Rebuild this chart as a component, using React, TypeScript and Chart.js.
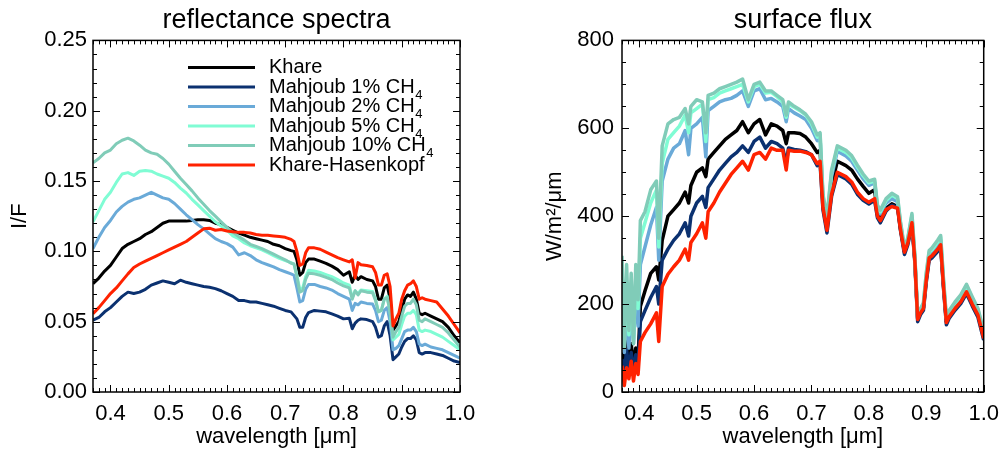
import React, { useEffect, useRef } from "react";
import { Chart, registerables } from "chart.js";

Chart.register(...registerables);

const FONT = "'Liberation Sans', Arial, Helvetica, sans-serif";

// ---------- reflectance spectra (left) ----------
const wavelengthRefl = [
  0.37, 0.38, 0.39, 0.40, 0.41, 0.42, 0.43, 0.44, 0.45, 0.46,
  0.47, 0.48, 0.49, 0.50, 0.51, 0.52, 0.53, 0.54, 0.55, 0.56,
  0.57, 0.58, 0.59, 0.60, 0.61, 0.62, 0.63, 0.64, 0.65, 0.66,
  0.67, 0.68, 0.69, 0.70, 0.71, 0.715, 0.72, 0.725, 0.73, 0.735,
  0.74, 0.75, 0.76, 0.77, 0.78, 0.79, 0.80, 0.81, 0.815, 0.82,
  0.825, 0.83, 0.84, 0.85, 0.855, 0.86, 0.865, 0.87, 0.875, 0.88,
  0.885, 0.89, 0.895, 0.90, 0.905, 0.91, 0.915, 0.92, 0.925, 0.93,
  0.935, 0.94, 0.95, 0.96, 0.97, 0.98, 0.99, 1.0,
];

const reflKhare = [
  0.077, 0.081, 0.086, 0.090, 0.096, 0.102, 0.105, 0.107, 0.109, 0.112,
  0.114, 0.117, 0.120, 0.1215, 0.1215, 0.1215, 0.1215, 0.122, 0.1225, 0.1225,
  0.122, 0.120, 0.119, 0.117, 0.115, 0.113, 0.1115, 0.110, 0.109, 0.108,
  0.107, 0.105, 0.104, 0.102, 0.1005, 0.100, 0.094, 0.083, 0.085, 0.092,
  0.0945, 0.0945, 0.093, 0.0915, 0.0895, 0.087, 0.083, 0.0855, 0.078, 0.083,
  0.080, 0.082, 0.080, 0.079, 0.075, 0.066, 0.066, 0.074, 0.076, 0.066,
  0.044, 0.047, 0.050, 0.058, 0.066, 0.069, 0.068, 0.071, 0.066, 0.056,
  0.055, 0.056, 0.054, 0.052, 0.050, 0.046, 0.040, 0.035,
];

const reflMahjoub1 = [
  0.051, 0.053, 0.057, 0.060, 0.064, 0.068, 0.071, 0.070, 0.071, 0.073,
  0.076, 0.0775, 0.079, 0.078, 0.077, 0.0795, 0.078, 0.077, 0.076, 0.075,
  0.0745, 0.0735, 0.072, 0.070, 0.068, 0.065, 0.065, 0.064, 0.064, 0.063,
  0.062, 0.061, 0.0595, 0.058, 0.057, 0.0545, 0.052, 0.046, 0.046, 0.053,
  0.0565, 0.058, 0.0575, 0.057, 0.0555, 0.054, 0.052, 0.0525, 0.045, 0.049,
  0.051, 0.052, 0.0515, 0.050, 0.046, 0.039, 0.040, 0.047, 0.050, 0.040,
  0.023, 0.025, 0.027, 0.032, 0.036, 0.038, 0.038, 0.040, 0.037, 0.028,
  0.027, 0.028, 0.028, 0.027, 0.026, 0.024, 0.022, 0.021,
];

const reflMahjoub2 = [
  0.102, 0.110, 0.117, 0.122, 0.128, 0.132, 0.135, 0.137, 0.138, 0.140,
  0.142, 0.140, 0.138, 0.137, 0.134, 0.130, 0.126, 0.1225, 0.119, 0.116,
  0.1125, 0.109, 0.107, 0.1055, 0.103, 0.0975, 0.099, 0.097, 0.094, 0.092,
  0.0905, 0.089, 0.087, 0.0855, 0.084, 0.083, 0.074, 0.064, 0.065, 0.073,
  0.0765, 0.0765, 0.075, 0.074, 0.0725, 0.070, 0.068, 0.066, 0.058, 0.063,
  0.062, 0.064, 0.063, 0.0625, 0.058, 0.050, 0.051, 0.058, 0.060, 0.050,
  0.030, 0.031, 0.033, 0.038, 0.043, 0.044, 0.044, 0.046, 0.043, 0.034,
  0.033, 0.034, 0.032, 0.031, 0.030, 0.028, 0.026, 0.024,
];

const reflMahjoub5 = [
  0.121, 0.129, 0.137, 0.142, 0.149, 0.155, 0.156, 0.154, 0.157, 0.1575,
  0.157, 0.155, 0.1535, 0.152, 0.149, 0.145, 0.1415, 0.137, 0.133, 0.129,
  0.125, 0.121, 0.118, 0.115, 0.111, 0.109, 0.106, 0.104, 0.1025, 0.101,
  0.099, 0.097, 0.095, 0.0935, 0.092, 0.091, 0.083, 0.073, 0.074, 0.082,
  0.0865, 0.086, 0.085, 0.0835, 0.082, 0.080, 0.0775, 0.076, 0.067, 0.072,
  0.070, 0.0725, 0.072, 0.0715, 0.066, 0.057, 0.058, 0.066, 0.068, 0.057,
  0.037, 0.039, 0.041, 0.048, 0.054, 0.056, 0.056, 0.058, 0.055, 0.044,
  0.043, 0.044, 0.043, 0.041, 0.039, 0.036, 0.033, 0.030,
];

const reflMahjoub10 = [
  0.163, 0.166, 0.170, 0.172, 0.1765, 0.179, 0.1805, 0.1785, 0.1755, 0.172,
  0.170, 0.169, 0.166, 0.162, 0.157, 0.152, 0.1475, 0.143, 0.138, 0.1335,
  0.129, 0.125, 0.121, 0.117, 0.1135, 0.1105, 0.108, 0.105, 0.1035, 0.102,
  0.100, 0.098, 0.096, 0.094, 0.0915, 0.091, 0.082, 0.071, 0.072, 0.080,
  0.0845, 0.084, 0.083, 0.0815, 0.080, 0.0775, 0.0755, 0.074, 0.066, 0.072,
  0.069, 0.072, 0.071, 0.0705, 0.065, 0.057, 0.058, 0.066, 0.067, 0.057,
  0.039, 0.043, 0.046, 0.054, 0.061, 0.063, 0.063, 0.066, 0.062, 0.051,
  0.050, 0.052, 0.050, 0.048, 0.046, 0.042, 0.037, 0.032,
];

const reflKhareHasenkopf = [
  0.0557, 0.060, 0.065, 0.070, 0.074, 0.079, 0.084, 0.0885, 0.091, 0.093,
  0.095, 0.097, 0.099, 0.101, 0.103, 0.105, 0.107, 0.110, 0.113, 0.116,
  0.1165, 0.115, 0.1155, 0.1145, 0.114, 0.1135, 0.1135, 0.113, 0.112, 0.1115,
  0.1115, 0.111, 0.1105, 0.110, 0.1085, 0.107, 0.100, 0.090, 0.091, 0.099,
  0.1025, 0.1025, 0.1015, 0.0995, 0.0975, 0.0955, 0.094, 0.0925, 0.094, 0.081,
  0.092, 0.0905, 0.090, 0.089, 0.085, 0.076, 0.076, 0.083, 0.084, 0.075,
  0.047, 0.052, 0.056, 0.066, 0.072, 0.076, 0.077, 0.079, 0.075, 0.066,
  0.067, 0.066, 0.065, 0.064, 0.059, 0.054, 0.048, 0.042,
];

// ---------- surface flux (right) ----------
const wavelengthFlux = [
  0.370, 0.374, 0.378, 0.382, 0.386, 0.390, 0.394, 0.398, 0.402, 0.41,
  0.42, 0.43, 0.434, 0.44, 0.45, 0.46, 0.47, 0.48, 0.486, 0.49,
  0.50, 0.51, 0.516, 0.52, 0.53, 0.54, 0.55, 0.56, 0.57, 0.58,
  0.59, 0.60, 0.61, 0.62, 0.63, 0.64, 0.65, 0.656, 0.66, 0.67,
  0.68, 0.69, 0.70, 0.71, 0.715, 0.72, 0.727, 0.735, 0.745, 0.76,
  0.77, 0.78, 0.79, 0.80, 0.81, 0.815, 0.82, 0.83, 0.84, 0.85,
  0.855, 0.862, 0.868, 0.875, 0.88, 0.885, 0.89, 0.895, 0.90, 0.905,
  0.91, 0.92, 0.925, 0.93, 0.935, 0.94, 0.95, 0.96, 0.97, 0.98,
  0.99, 1.0,
];

const fluxKhare = [
  90, 60, 120, 70, 110, 60, 100, 75, 195, 230,
  270, 285, 255, 345, 400, 415, 430, 455, 430, 470,
  500, 510, 490, 530, 545, 560, 575, 585, 595, 615,
  590, 610, 620, 585, 610, 605, 595, 565, 590, 590,
  588, 580, 565, 545, 550, 430, 375, 470, 525, 515,
  505, 485, 468, 452, 460, 405, 395, 418, 428, 422,
  372, 320, 342, 388, 302, 167, 182, 192, 258, 308,
  313, 328, 338, 243, 160, 175, 193, 208, 231, 203,
  178, 125,
];

const fluxMahjoub1 = [
  75, 40, 95, 50, 90, 45, 85, 60, 160, 185,
  215, 240, 200, 300, 325, 345, 360, 385, 355, 400,
  430, 445, 420, 465, 485, 505, 520, 535, 545, 560,
  545, 570, 580, 555, 570, 565, 555, 520, 555, 552,
  550, 547, 540, 515, 520, 415, 362, 445, 495, 485,
  473, 450, 436, 428, 436, 396, 385, 412, 425, 420,
  368, 313, 336, 382, 296, 160, 176, 186, 250, 300,
  305, 320, 330, 236, 153, 168, 186, 201, 224, 196,
  170, 118,
];

const fluxMahjoub2 = [
  180, 90, 200, 100, 210, 110, 230, 150, 290, 330,
  380, 420, 300, 480, 530, 555, 565, 595, 540, 600,
  610, 625, 535, 640, 650, 660, 665, 668, 675, 685,
  650, 685, 690, 665, 668, 660, 650, 615, 645, 635,
  628, 620, 600, 572, 578, 440, 390, 490, 548, 537,
  525, 505, 485, 470, 476, 415, 405, 430, 440, 433,
  380, 322, 346, 395, 306, 168, 184, 195, 262, 312,
  318, 334, 345, 248, 163, 178, 197, 213, 236, 208,
  182, 130,
];

const fluxMahjoub5 = [
  260, 110, 250, 130, 240, 120, 260, 190, 350, 385,
  430, 460, 330, 520, 575, 590, 605, 630, 590, 635,
  645, 655, 570, 665, 670, 680, 685, 690, 695, 700,
  660, 695, 700, 680, 682, 672, 660, 625, 655, 648,
  640, 630, 610, 580, 585, 445, 395, 500, 555, 545,
  533, 512, 492, 476, 480, 420, 410, 436, 448, 440,
  385, 326, 350, 402, 310, 172, 188, 200, 268, 318,
  324, 342, 352, 254, 168, 183, 202, 218, 242, 214,
  187, 135,
];

const fluxMahjoub10 = [
  310, 100, 290, 140, 270, 110, 290, 210, 390, 410,
  460, 480, 350, 560, 610, 620, 625, 645, 610, 650,
  665, 660, 590, 675, 680, 690, 695, 700, 705, 712,
  665, 700, 705, 685, 685, 675, 665, 630, 660, 650,
  642, 632, 615, 585, 590, 450, 398, 505, 560, 550,
  538, 516, 496, 480, 484, 425, 414, 440, 452, 444,
  388, 328, 352, 406, 312, 174, 190, 203, 272, 322,
  328, 346, 356, 257, 170, 186, 205, 221, 245, 217,
  190, 138,
];

const fluxKhareHasenkopf = [
  60, 15, 55, 30, 70, 25, 65, 40, 115, 135,
  155, 180, 115, 240, 268, 285, 300, 325, 300, 340,
  360, 385, 350, 410, 430, 455, 475, 495, 510, 525,
  505, 540, 545, 530, 555, 550, 550, 505, 550, 548,
  548, 545, 540, 520, 525, 420, 368, 450, 500, 490,
  478, 455, 440, 432, 440, 400, 390, 415, 422, 418,
  370, 318, 340, 385, 300, 165, 180, 190, 255, 305,
  310, 325, 335, 240, 158, 172, 190, 205, 228, 200,
  175, 122,
];

// ---------- series meta ----------
const seriesNames = [
  "Khare",
  "Mahjoub 1% CH4",
  "Mahjoub 2% CH4",
  "Mahjoub 5% CH4",
  "Mahjoub 10% CH4",
  "Khare-Hasenkopf",
];
const legendMain = ["Khare", "Mahjoub 1% CH", "Mahjoub 2% CH", "Mahjoub 5% CH", "Mahjoub 10% CH", "Khare-Hasenkopf"];
const legendSub = ["", "4", "4", "4", "4", ""];
const seriesColors = ["#000000", "#0b3170", "#6aaad8", "#80fcd4", "#80ccb8", "#ff2200"];
const seriesOrder = [5, 4, 3, 2, 1, 0];

const reflSeries = [reflKhare, reflMahjoub1, reflMahjoub2, reflMahjoub5, reflMahjoub10, reflKhareHasenkopf];
const fluxSeries = [fluxKhare, fluxMahjoub1, fluxMahjoub2, fluxMahjoub5, fluxMahjoub10, fluxKhareHasenkopf];

type PanelCfg = {
  title: string;
  yTitle: string;
  xs: number[];
  series: number[][];
  yMin: number;
  yMax: number;
  yStep: number;
  yMinor: number;
  yDecimals: number;
  yAxisWidth: number;
  rightPad: number;
  yTitlePad: number;
  yTickPad: number;
  lineWidth: number;
  legend: boolean;
};

const xMin = 0.37;
const xMax = 1.0;

function frameTicksPlugin(cfg: PanelCfg) {
  return {
    id: "frameTicks",
    afterDatasetsDraw(chart: any) {
      const { ctx, chartArea } = chart;
      const { left, right, top, bottom } = chartArea;
      const xs = chart.scales.x;
      const ys = chart.scales.y;
      ctx.save();
      ctx.strokeStyle = "#000";
      ctx.lineWidth = 1;
      ctx.beginPath();
      // x ticks every 0.01, major every 0.1
      for (let k = 37; k <= 100; k++) {
        const px = Math.round(xs.getPixelForValue(k / 100)) + 0.5;
        const len = k % 10 === 0 ? 7 : 4;
        ctx.moveTo(px, bottom);
        ctx.lineTo(px, bottom - len);
        ctx.moveTo(px, top);
        ctx.lineTo(px, top + len);
      }
      const nMinor = Math.round((cfg.yMax - cfg.yMin) / cfg.yMinor);
      const per = Math.round(cfg.yStep / cfg.yMinor);
      for (let k = 0; k <= nMinor; k++) {
        const v = cfg.yMin + k * cfg.yMinor;
        const py = Math.round(ys.getPixelForValue(v)) + 0.5;
        const len = k % per === 0 ? 7 : 4;
        ctx.moveTo(left, py);
        ctx.lineTo(left + len, py);
        ctx.moveTo(right, py);
        ctx.lineTo(right - len, py);
      }
      ctx.stroke();
      ctx.lineWidth = 1.5;
      ctx.strokeRect(left, top, right - left, bottom - top);

      if (cfg.legend) {
        const x1 = 188;
        const x2 = 255;
        const tx = 269;
        for (let i = 0; i < seriesNames.length; i++) {
          const y = 67.5 + i * 19.5;
          ctx.strokeStyle = seriesColors[i];
          ctx.lineWidth = 3;
          ctx.beginPath();
          ctx.moveTo(x1, y);
          ctx.lineTo(x2, y);
          ctx.stroke();
          ctx.fillStyle = "#000";
          ctx.textBaseline = "middle";
          ctx.textAlign = "left";
          ctx.font = `20px ${FONT}`;
          ctx.fillText(legendMain[i], tx, y);
          if (legendSub[i]) {
            const w = ctx.measureText(legendMain[i]).width;
            ctx.font = `13px ${FONT}`;
            ctx.fillText(legendSub[i], tx + w + 0.5, y + 8);
          }
        }
      }
      ctx.restore();
    },
  };
}

function Panel({ cfg }: { cfg: PanelCfg }) {
  const ref = useRef<HTMLCanvasElement | null>(null);
  useEffect(() => {
    if (!ref.current) return;
    const datasets = cfg.series.map((vals, i) => ({
      label: seriesNames[i],
      data: cfg.xs.map((x, j) => ({ x, y: vals[j] })),
      borderColor: seriesColors[i],
      backgroundColor: seriesColors[i],
      borderWidth: cfg.lineWidth,
      pointRadius: 0,
      tension: 0,
      fill: false,
      order: seriesOrder[i],
      borderJoinStyle: "round" as const,
    }));
    const chart = new Chart(ref.current, {
      type: "line",
      data: { datasets },
      options: {
        animation: false,
        responsive: false,
        devicePixelRatio: 1,
        layout: { padding: { left: 0, right: cfg.rightPad, top: 0, bottom: 0 } },
        plugins: {
          legend: { display: false },
          tooltip: { enabled: false },
          title: {
            display: true,
            text: cfg.title,
            color: "#000",
            font: { family: FONT, size: 27, weight: "normal" },
            padding: { top: 4, bottom: 4 },
            fullSize: false,
          },
        },
        scales: {
          x: {
            type: "linear",
            min: xMin,
            max: xMax,
            grid: { display: false, drawTicks: false },
            border: { display: false },
            ticks: {
              stepSize: 0.1,
              includeBounds: false,
              autoSkip: false,
              maxRotation: 0,
              color: "#000",
              padding: 9,
              font: { family: FONT, size: 22 },
              callback: (v: any) => Number(v).toFixed(1),
            },
            title: {
              display: true,
              text: "wavelength [μm]",
              color: "#000",
              font: { family: FONT, size: 22 },
              padding: { top: 0, bottom: 4 },
            },
            afterFit: (s: any) => {
              s.height = 62;
            },
          },
          y: {
            type: "linear",
            min: cfg.yMin,
            max: cfg.yMax,
            grid: { display: false, drawTicks: false },
            border: { display: false },
            ticks: {
              stepSize: cfg.yStep,
              autoSkip: false,
              color: "#000",
              padding: cfg.yTickPad,
              font: { family: FONT, size: 22 },
              callback: (v: any) => Number(v).toFixed(cfg.yDecimals),
            },
            title: {
              display: true,
              text: cfg.yTitle,
              color: "#000",
              font: { family: FONT, size: 22 },
              padding: { top: cfg.yTitlePad, bottom: 0 },
            },
            afterFit: (s: any) => {
              s.width = cfg.yAxisWidth;
            },
          },
        },
      } as any,
      plugins: [frameTicksPlugin(cfg)],
    });
    return () => chart.destroy();
  }, [cfg]);
  return <canvas ref={ref} width={504} height={454} style={{ display: "block", width: 504, height: 454 }} />;
}

const leftCfg: PanelCfg = {
  title: "reflectance spectra",
  yTitle: "I/F",
  xs: wavelengthRefl,
  series: reflSeries,
  yMin: 0,
  yMax: 0.25,
  yStep: 0.05,
  yMinor: 0.01,
  yDecimals: 2,
  yAxisWidth: 93,
  rightPad: 44,
  yTitlePad: 7,
  yTickPad: 6,
  lineWidth: 3,
  legend: true,
};

const rightCfg: PanelCfg = {
  title: "surface flux",
  yTitle: "W/m²/μm",
  xs: wavelengthFlux,
  series: fluxSeries,
  yMin: 0,
  yMax: 800,
  yStep: 200,
  yMinor: 50,
  yDecimals: 0,
  yAxisWidth: 118,
  rightPad: 20,
  yTitlePad: 38,
  yTickPad: 8,
  lineWidth: 3.5,
  legend: false,
};

export default function App() {
  return (
    <div
      style={{
        position: "absolute",
        left: 0,
        top: 0,
        width: 1008,
        height: 454,
        display: "flex",
        background: "#fff",
      }}
    >
      <Panel cfg={leftCfg} />
      <Panel cfg={rightCfg} />
    </div>
  );
}
